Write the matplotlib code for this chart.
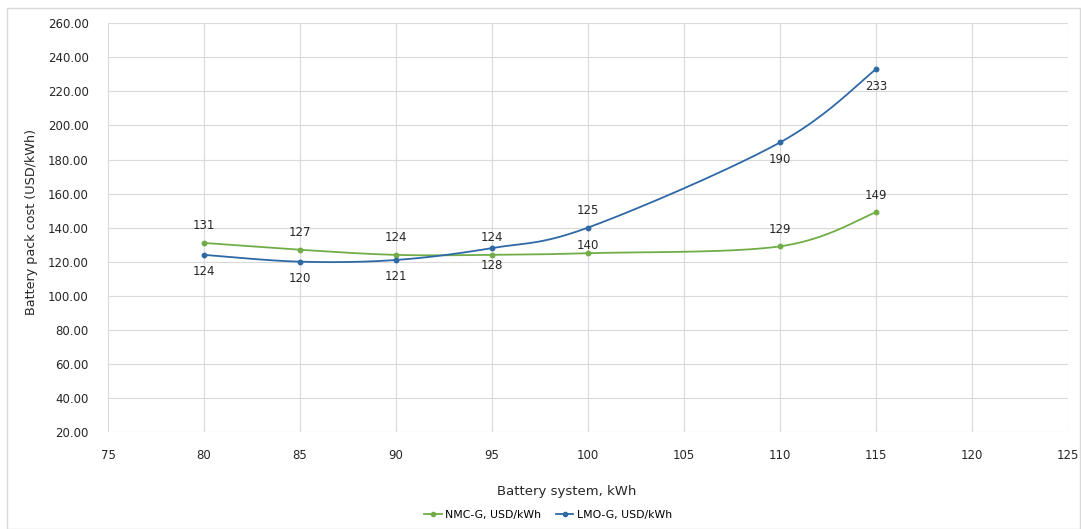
import numpy as np
import matplotlib.pyplot as plt
from matplotlib.patches import Rectangle
from matplotlib.lines import Line2D

# battery system size, kWh
capacity = [80, 85, 90, 95, 100, 110, 115]
nmc_cost = [131, 127, 124, 124, 125, 129, 149]
lmo_cost = [124, 120, 121, 128, 140, 190, 233]
nmc_name = 'NMC-G, USD/kWh'
lmo_name = 'LMO-G, USD/kWh'

GREEN = '#70AD47'
BLUE = '#2E69A6'

# label offsets in pixels (green above, blue below), one moved by hand at 100 kWh
nmc_label_dy = [17, 17, 17, 17, 43, 17, 17]
lmo_label_dy = [-17, -17, -17, -17, -18, -17, -17]


def excel_smooth(x, y, n=40):
    # catmull-rom style bezier like the excel "smoothed line" option
    x = np.asarray(x, float)
    y = np.asarray(y, float)
    xs, ys = [], []
    for i in range(len(x) - 1):
        p0 = np.array([x[max(i - 1, 0)], y[max(i - 1, 0)]])
        p1 = np.array([x[i], y[i]])
        p2 = np.array([x[i + 1], y[i + 1]])
        p3 = np.array([x[min(i + 2, len(x) - 1)], y[min(i + 2, len(x) - 1)]])
        c1 = p1 + (p2 - p0) / 6
        c2 = p2 - (p3 - p1) / 6
        t = np.linspace(0, 1, n)[:, None]
        pts = (1 - t) ** 3 * p1 + 3 * (1 - t) ** 2 * t * c1 + 3 * (1 - t) * t ** 2 * c2 + t ** 3 * p2
        xs.append(pts[:, 0])
        ys.append(pts[:, 1])
    return np.concatenate(xs), np.concatenate(ys)


plt.rcParams['font.family'] = ['DejaVu Sans']
fig = plt.figure(figsize=(10.81, 5.29), dpi=100)
ax = fig.add_axes([0.0999, 0.1834, 0.888, 0.7726])

fig.patches.append(Rectangle((7 / 1081, 0.0), 1 - 7 / 1081 - 0.001, 1 - 8 / 529,
                             transform=fig.transFigure, fill=False,
                             edgecolor='#D9D9D9', linewidth=1.0))

for cost, color in [(nmc_cost, GREEN), (lmo_cost, BLUE)]:
    sx, sy = excel_smooth(capacity, cost)
    ax.plot(sx, sy, color=color, linewidth=1.3, zorder=3)
    ax.plot(capacity, cost, 'o', color=color, markersize=3.2, zorder=4)

for x, v, dy in zip(capacity, nmc_cost, nmc_label_dy):
    ax.annotate(str(v), (x, v), xytext=(0, dy * 0.72), textcoords='offset points',
                ha='center', va='center', fontsize=8.5, color='#262626')
for x, v, dy in zip(capacity, lmo_cost, lmo_label_dy):
    ax.annotate(str(v), (x, v), xytext=(0, dy * 0.72), textcoords='offset points',
                ha='center', va='center', fontsize=8.5, color='#262626')

ax.set_xlim(75, 125)
ax.set_ylim(20, 260)
ax.set_xticks(np.arange(75, 126, 5))
ax.set_yticks(np.arange(20, 261, 20))
ax.set_yticklabels([f'{v:.2f}' for v in np.arange(20, 261, 20)])
ax.grid(True, color='#D9D9D9', linewidth=0.8)
ax.set_axisbelow(True)
for s in ax.spines.values():
    s.set_visible(False)
ax.tick_params(length=0, labelsize=8.5, colors='#262626')
ax.tick_params(axis='y', pad=14)
ax.tick_params(axis='x', pad=12)

fig.text(567 / 1081, 1 - 491 / 529, 'Battery system, kWh', fontsize=9.5,
         color='#262626', ha='center', va='center')
fig.text(32 / 1081, 1 - 222 / 529, 'Battery pack cost (USD/kWh)', fontsize=9.2,
         color='#262626', ha='center', va='center', rotation=90)

handles = [Line2D([], [], color=GREEN, marker='o', markersize=3, linewidth=1.3),
           Line2D([], [], color=BLUE, marker='o', markersize=3, linewidth=1.3)]
fig.legend(handles, [nmc_name, lmo_name], loc='center', bbox_to_anchor=(548 / 1081, 1 - 515 / 529),
           ncol=2, frameon=False, fontsize=7.8, handlelength=1.6, handletextpad=0.3,
           columnspacing=1.4)

fig.savefig('out.png', dpi=100)
